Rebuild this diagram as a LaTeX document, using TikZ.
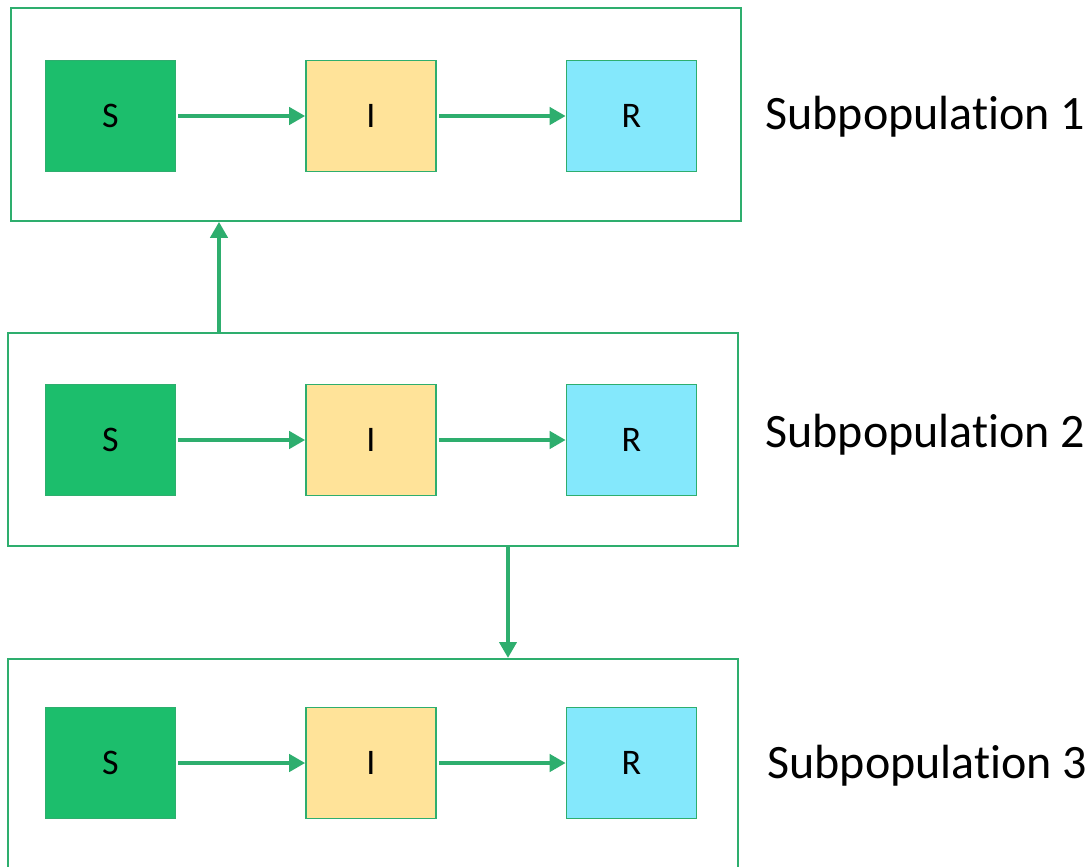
\documentclass[tikz,border=0pt]{standalone}
\usepackage{fontspec}
\setmainfont{Carlito}[Ligatures={NoCommon}]
\usetikzlibrary{arrows.meta}
\definecolor{edgegreen}{RGB}{46,174,110}
\definecolor{sfill}{RGB}{28,190,108}
\definecolor{ifill}{RGB}{255,227,153}
\definecolor{rfill}{RGB}{132,232,252}
\tikzset{
  popbox/.style={draw=edgegreen, line width=1.8pt, fill=white, minimum width=730pt, minimum height=213pt, anchor=north west, inner sep=0pt},
  comp/.style={draw=edgegreen, line width=1.6pt, minimum width=130pt, minimum height=111pt, inner sep=0pt, font=\fontsize{36}{42}\selectfont},
  flow/.style={draw=edgegreen, line width=4.4pt, -{Triangle[length=16pt, width=17pt]}},
  poplabel/.style={anchor=west, font=\fontsize{48}{56}\selectfont}
}
\begin{document}
\begin{tikzpicture}[x=1pt, y=-1pt]
\useasboundingbox (0,0) rectangle (1090,867);
% subpopulation frames
\node[popbox] (p1) at (10,7) {};
\node[popbox] (p2) at (7,332) {};
\node[popbox, minimum height=220pt] (p3) at (7,658) {};
% compartments of each subpopulation
\foreach \k/\y in {1/116, 2/440, 3/763} {
  \node[comp, fill=sfill] (s\k) at (110.5,\y) {S};
  \node[comp, fill=ifill] (i\k) at (371,\y) {I};
  \node[comp, fill=rfill] (r\k) at (631.5,\y) {R};
  \draw[flow, shorten <=2pt] (s\k) -- (i\k);
  \draw[flow, shorten <=2pt] (i\k) -- (r\k);
}
% labels
\node[poplabel] (l1) at (762,117) {Subpopulation 1};
\node[poplabel] (l2) at (762,435) {Subpopulation 2};
\node[poplabel] (l3) at (764,766) {Subpopulation 3};
% migration between subpopulations
\coordinate (ua) at (219,0);
\coordinate (da) at (508,0);
\draw[flow] (p2.north -| ua) -- (p1.south -| ua);
\draw[flow] (p2.south -| da) -- (p3.north -| da);
\end{tikzpicture}
\end{document}
